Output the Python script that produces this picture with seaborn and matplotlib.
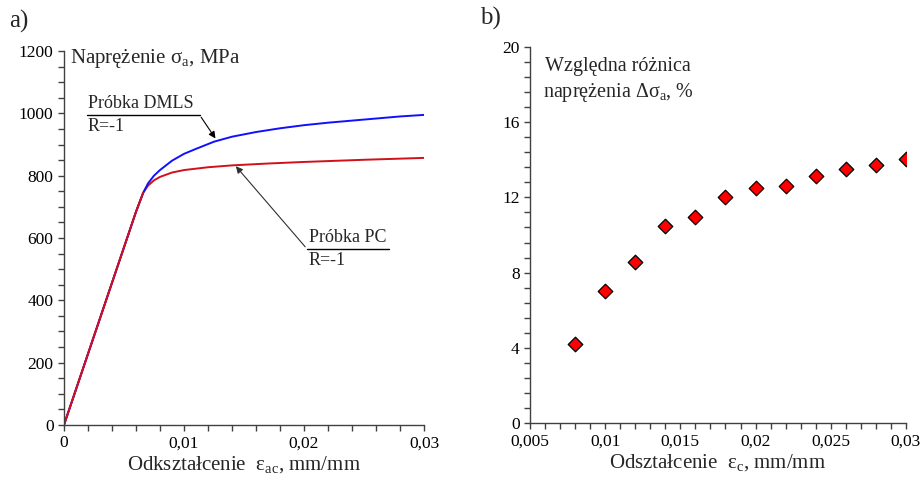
import numpy as np
import pandas as pd
import matplotlib
matplotlib.use("Agg")
import matplotlib.pyplot as plt
from matplotlib.ticker import MultipleLocator, FuncFormatter
import seaborn as sns

# ======================
# DATA
# ======================
# a) stress-strain curves
strain_dmls = [0, 0.002, 0.004, 0.006, 0.0066, 0.007, 0.0075, 0.008, 0.009, 0.010,
               0.011, 0.0125, 0.014, 0.016, 0.018, 0.020, 0.022, 0.025, 0.028, 0.030]
stress_dmls = [0, 228, 456, 684, 745, 775, 800, 818, 848, 870,
               886, 909, 925, 940, 952, 962, 970, 980, 990, 995]

strain_pc = [0, 0.002, 0.004, 0.006, 0.0066, 0.007, 0.0075, 0.008, 0.009, 0.010,
             0.012, 0.014, 0.017, 0.020, 0.025, 0.030]
stress_pc = [0, 228, 456, 684, 745, 768, 785, 796, 810, 818,
             827, 833, 839, 844, 851, 857]

# b) relative stress difference
strain_b = [0.008, 0.010, 0.012, 0.014, 0.016, 0.018, 0.020, 0.022, 0.024, 0.026, 0.028, 0.030]
diff_b = [4.2, 7.0, 8.56, 10.48, 10.96, 12.02, 12.48, 12.58, 13.14, 13.5, 13.72, 14.04]

left_xticks = [0, 0.01, 0.02, 0.03]
left_yticks = [0, 200, 400, 600, 800, 1000, 1200]
right_xticks = [0.005, 0.01, 0.015, 0.02, 0.025, 0.03]
right_yticks = [0, 4, 8, 12, 16, 20]

# ======================
# STYLE
# ======================
sns.set_style("ticks")
plt.rcParams["font.family"] = ["Liberation Serif", "DejaVu Serif"]
plt.rcParams["mathtext.fontset"] = "custom"
plt.rcParams["mathtext.rm"] = "Liberation Serif"
plt.rcParams["mathtext.it"] = "Liberation Serif:italic"
plt.rcParams["axes.edgecolor"] = "#404040"
plt.rcParams["xtick.color"] = "#404040"
plt.rcParams["ytick.color"] = "#404040"
plt.rcParams["xtick.labelcolor"] = "black"
plt.rcParams["ytick.labelcolor"] = "black"


def comma_fmt(v, pos):
    if abs(v) < 1e-12:
        return "0"
    s = f"{v:.3f}".rstrip("0").rstrip(".")
    return s.replace(".", ",")


def style_axis(ax):
    sns.despine(ax=ax)
    ax.tick_params(which="both", direction="out", length=4, width=1, labelsize=12.5)
    for sp in ["left", "bottom"]:
        ax.spines[sp].set_linewidth(1)


fig = plt.figure(figsize=(9.23, 4.83), dpi=100)
ax1 = fig.add_axes([0.0693, 0.1201, 0.3901, 0.7743])
ax2 = fig.add_axes([0.5742, 0.1242, 0.4073, 0.7785])

# ======================
# a) PANEL
# ======================
df_dmls = pd.DataFrame({"strain": strain_dmls, "stress": stress_dmls})
df_pc = pd.DataFrame({"strain": strain_pc, "stress": stress_pc})
sns.lineplot(data=df_pc, x="strain", y="stress", ax=ax1, color="#d0101a", lw=1.4, sort=False)
sns.lineplot(data=df_dmls, x="strain", y="stress", ax=ax1, color="#1010ff", lw=1.4, sort=False)
sns.lineplot(data=df_pc.iloc[:5], x="strain", y="stress", ax=ax1, color="#d0101a", lw=1.4, sort=False)

ax1.set_xlim(0, 0.03)
ax1.set_ylim(0, 1200)
ax1.set_xticks(left_xticks)
ax1.set_yticks(left_yticks)
ax1.xaxis.set_minor_locator(MultipleLocator(0.002))
ax1.yaxis.set_minor_locator(MultipleLocator(50))
ax1.xaxis.set_major_formatter(FuncFormatter(comma_fmt))
style_axis(ax1)
ax1.set_xlabel(r"Odkształcenie  $\mathrm{ε_{ac}}$, mm/mm", fontsize=15, labelpad=2)
ax1.set_ylabel("")
ax1.text(0.017, 0.98, r"Naprężenie $\mathrm{σ_{a}}$, MPa", transform=ax1.transAxes,
         fontsize=15, va="center", ha="left")

# DMLS annotation
ax1.plot([0.0019, 0.0113], [995, 995], color="black", lw=1)
ax1.annotate("", xy=(0.01275, 912), xytext=(0.0113, 995),
             arrowprops=dict(arrowstyle="-|>", color="black", lw=0.8, mutation_scale=10))
ax1.text(0.002, 1005, "Próbka DMLS", fontsize=13, ha="left", va="bottom")
ax1.text(0.002, 985, "R=-1", fontsize=13, ha="left", va="top")

# PC annotation
ax1.plot([0.02025, 0.0271], [565, 565], color="black", lw=1)
ax1.annotate("", xy=(0.01417, 837), xytext=(0.02025, 565),
             arrowprops=dict(arrowstyle="-|>", color="#303030", lw=0.8, mutation_scale=10))
ax1.text(0.0204, 575, "Próbka PC", fontsize=13, ha="left", va="bottom")
ax1.text(0.0204, 555, "R=-1", fontsize=13, ha="left", va="top")

fig.text(0.010, 0.955, "a)", fontsize=18, ha="left", va="center")

# ======================
# b) PANEL
# ======================
df_b = pd.DataFrame({"strain": strain_b, "diff": diff_b})
sns.scatterplot(data=df_b, x="strain", y="diff", ax=ax2, marker="D", s=55,
                color="#ff0000", edgecolor="black", linewidth=0.9, zorder=3)
ax2.set_xlim(0.005, 0.03)
ax2.set_ylim(0, 20)
ax2.set_xticks(right_xticks)
ax2.set_yticks(right_yticks)
ax2.xaxis.set_minor_locator(MultipleLocator(0.001))
ax2.yaxis.set_minor_locator(MultipleLocator(0.8))
ax2.xaxis.set_major_formatter(FuncFormatter(comma_fmt))
style_axis(ax2)
ax2.set_xlabel(r"Odształcenie  $\mathrm{ε_{c}}$, mm/mm", fontsize=15, labelpad=2)
ax2.set_ylabel("")
ax2.text(0.235, 0.948, "Względna różnica", transform=ax2.transAxes,
         fontsize=14.5, ha="center", va="center")
ax2.text(0.235, 0.880, r"naprężenia $\mathrm{Δσ_{a}}$, %", transform=ax2.transAxes,
         fontsize=14.5, ha="center", va="center")

fig.text(0.520, 0.962, "b)", fontsize=18, ha="left", va="center")

fig.savefig("out.png", dpi=100)
plt.close(fig)
